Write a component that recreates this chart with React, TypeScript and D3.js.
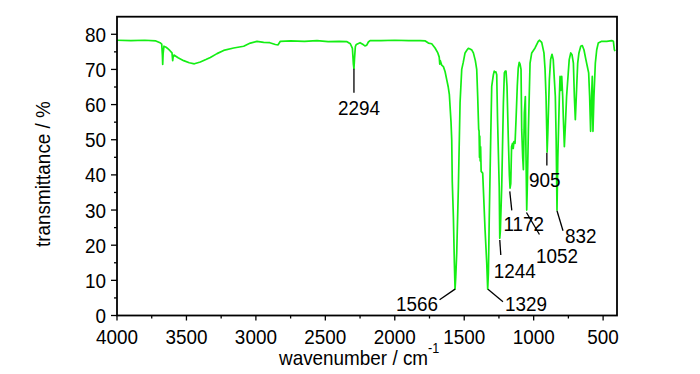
import React from 'react';
import * as d3 from 'd3';

// IR spectrum
const wavenumbers = [
  4000, 3900, 3800, 3720, 3690, 3678, 3673, 3671, 3668, 3662, 3650, 3640, 3620, 3604, 3599, 3596, 3590,
  3560, 3520, 3480, 3443, 3400, 3360, 3328, 3280, 3232, 3160, 3088, 3040, 2992, 2944, 2900, 2860, 2840,
  2824, 2750, 2650, 2560, 2480, 2400, 2344, 2320, 2305, 2298, 2294, 2290, 2284, 2277, 2250, 2225, 2215,
  2202, 2190, 2178, 2100, 2000, 1900, 1818, 1780, 1758, 1734, 1710, 1690, 1680, 1676, 1672, 1662, 1650,
  1638, 1626, 1615, 1607, 1595, 1590, 1586, 1578, 1571, 1566, 1561, 1554, 1542, 1530, 1518, 1507, 1494,
  1480, 1470, 1458, 1445, 1434, 1420, 1410, 1403, 1396, 1393, 1390, 1388, 1385, 1382, 1378, 1367, 1362,
  1350, 1338, 1331, 1326, 1320, 1309, 1302, 1290, 1284, 1278, 1272, 1266, 1260, 1248, 1244, 1240, 1230,
  1218, 1211, 1205, 1199, 1192, 1183, 1175, 1170, 1165, 1159, 1152, 1147, 1142, 1134, 1127, 1118, 1111,
  1104, 1098, 1091, 1086, 1079, 1074, 1067, 1060, 1055, 1050, 1045, 1038, 1026, 1014, 990, 967, 959,
  942, 926, 918, 911, 906, 903, 898, 894, 887, 878, 868, 859, 851, 844, 838, 832, 826, 815, 810, 805,
  798, 791, 786, 779, 772, 763, 751, 744, 733, 724, 714, 707, 700, 690, 683, 674, 661, 650, 638, 624,
  614, 604, 597, 590, 583, 578, 573, 566, 556, 546, 535, 510, 474, 438, 426, 419, 414,
];
const transmittance = [
  78.3, 78.2, 78.3, 78.1, 77.6, 77.2, 74, 71.4, 74.5, 76.6, 76.4, 76.1, 75.4, 74.7, 72.5, 73.5, 74.1,
  73.3, 72.5, 71.9, 71.6, 72.1, 72.8, 73.4, 74.5, 75.4, 76.1, 76.6, 77.5, 78.0, 77.7, 77.6, 77.1, 77.0,
  78.0, 78.1, 78.0, 78.2, 77.9, 78.0, 77.9, 77.3, 76.0, 71.5, 70.2, 73, 76.5, 77.1, 77.6, 77.0, 76.7,
  76.9, 77.8, 78.2, 78.2, 78.3, 78.2, 78.2, 78.1, 77.5, 77.3, 76.1, 74.7, 73.5, 71.5, 72.5, 71.2, 70.8,
  69.4, 67.1, 65.0, 62.8, 55, 50, 38, 28, 15, 7.5, 11, 17.7, 36.7, 60.5, 70, 72, 74.7,
  75.5, 76.0, 75.8, 75.5, 74.7, 72.5, 70, 62.3, 53, 52.5, 45, 51, 44, 48, 41, 40.5, 35.8,
  24.4, 15, 7.5, 12, 27.2, 51, 65.2, 68.5, 69.5, 69.2, 69.3, 68.5, 55.7, 36.7, 22, 24, 36.7,
  60.5, 69, 69.5, 69.5, 65.2, 51, 40, 36.2, 37.5, 48, 49, 47.5, 49.5, 49, 55.7, 65.2, 70.4,
  72, 71.5, 70, 52.8, 45, 41.5, 57.6, 62.3, 45, 30, 38, 52.8, 71.8, 74.7, 76.1, 78, 78.3,
  77.7, 74.7, 70, 62.3, 52.8, 46.5, 52, 57.6, 67.1, 72.8, 74.3, 72.8, 67.1, 62.3, 50, 30, 45, 62.3, 68, 64,
  68, 62.3, 55.7, 48, 53.8, 62.3, 69, 72.8, 74.7, 74.2, 71.8, 62.3, 55.7, 65.2, 71.8, 74.7, 76.6, 76.8, 75.6, 72.8,
  70.9, 69, 62.3, 52.4, 62.3, 68, 52.4, 62.3, 71.8, 75.6, 77.5, 78, 78, 78.2, 78, 75.6, 75.2,
];

const xMajorTicks = [4000, 3500, 3000, 2500, 2000, 1500, 1000, 500];
const xMinorTicks = [3750, 3250, 2750, 2250, 1750, 1250, 750];
const yMajorTicks = [0, 10, 20, 30, 40, 50, 60, 70, 80];
const yMinorTicks = [5, 15, 25, 35, 45, 55, 65, 75];

// peak labels
const peakLabels = ['2294', '1566', '1329', '1244', '1172', '1052', '905', '832'];
const peakWn = [2294, 1566, 1329, 1244, 1172, 1052, 905, 832];
const peakT = [70.2, 7.5, 7.5, 21.5, 35.3, 29.3, 46.3, 29.8];

// leader line end / label offsets in px (layout only)
const leaderLayout = [
  { lx: 0, ly: 24, tx: 5, ty: 46, anchor: 'middle' },
  { lx: -15.5, ly: 10.7, tx: -17, ty: 21.7, anchor: 'end' },
  { lx: 15, ly: 12.7, tx: 17, ty: 21.7, anchor: 'start' },
  { lx: 1, ly: 15, tx: 15, ty: 38, anchor: 'middle' },
  { lx: 2, ly: 19, tx: 14, ty: 40, anchor: 'middle' },
  { lx: 13, ly: 22, tx: 30.6, ty: 50, anchor: 'middle' },
  { lx: 0, ly: 12.7, tx: -2, ty: 34, anchor: 'middle' },
  { lx: 6, ly: 20, tx: 8, ty: 32, anchor: 'start' },
];

const font = '"Liberation Sans", Arial, sans-serif';
const fs = 21;
const squeeze = 0.9;

// condensed text, like the narrow Arial of the original
function Label({ x, y, anchor = 'start', rotate = 0, children }: any) {
  return (
    <text transform={`translate(${x},${y}) rotate(${rotate}) scale(${squeeze},1)`}
      textAnchor={anchor} fontSize={fs}>{children}</text>
  );
}

export default function App() {
  const W = 700;
  const H = 374;
  const left = 117, right = 617, top = 16.7, bottom = 315.5;

  const x = d3.scaleLinear().domain([4000, 400]).range([left, right]);
  const y = d3.scaleLinear().domain([0, 85]).range([bottom, top]);

  const pts = wavenumbers.map((w, i) => [w, transmittance[i]] as [number, number]);
  const line = d3.line<[number, number]>()
    .x(d => x(d[0]))
    .y(d => y(d[1]));

  return (
    <svg width={W} height={H} style={{ position: 'absolute', left: 0, top: 0, background: '#fff' }}
      fontFamily={font}>
      <path d={line(pts) || ''} fill="none" stroke="#14ee14" strokeWidth={1.7} strokeLinejoin="round" />

      <rect x={left} y={top} width={right - left} height={bottom - top} fill="none" stroke="#000" strokeWidth={1.8} />

      {/* x axis */}
      {xMajorTicks.map(t => (
        <g key={'xm' + t}>
          <line x1={x(t)} x2={x(t)} y1={bottom} y2={bottom + 5} stroke="#000" strokeWidth={1.3} />
          <Label x={x(t)} y={bottom + 28.5} anchor="middle">{t}</Label>
        </g>
      ))}
      {xMinorTicks.map(t => (
        <line key={'xn' + t} x1={x(t)} x2={x(t)} y1={bottom} y2={bottom + 3} stroke="#000" strokeWidth={1.3} />
      ))}

      {/* y axis */}
      {yMajorTicks.map(t => (
        <g key={'ym' + t}>
          <line x1={left - 6} x2={left} y1={y(t)} y2={y(t)} stroke="#000" strokeWidth={1.3} />
          <Label x={left - 11} y={y(t) + 7.5} anchor="end">{t}</Label>
        </g>
      ))}
      {yMinorTicks.map(t => (
        <line key={'yn' + t} x1={left - 3} x2={left} y1={y(t)} y2={y(t)} stroke="#000" strokeWidth={1.3} />
      ))}

      {/* axis titles */}
      <Label x={279} y={365}>
        wavenumber / cm<tspan dy={-12} fontSize={14}>-1</tspan>
      </Label>
      <Label x={50} y={(top + bottom) / 2 + 8} anchor="middle" rotate={-90}>
        transmittance / %
      </Label>

      {/* peak annotations */}
      {peakLabels.map((lab, i) => {
        const px = x(peakWn[i]);
        const py = y(peakT[i]);
        const l = leaderLayout[i];
        return (
          <g key={lab}>
            <line x1={px} y1={py} x2={px + l.lx} y2={py + l.ly} stroke="#000" strokeWidth={1.3} />
            <Label x={px + l.tx} y={py + l.ty} anchor={l.anchor}>{lab}</Label>
          </g>
        );
      })}
    </svg>
  );
}
